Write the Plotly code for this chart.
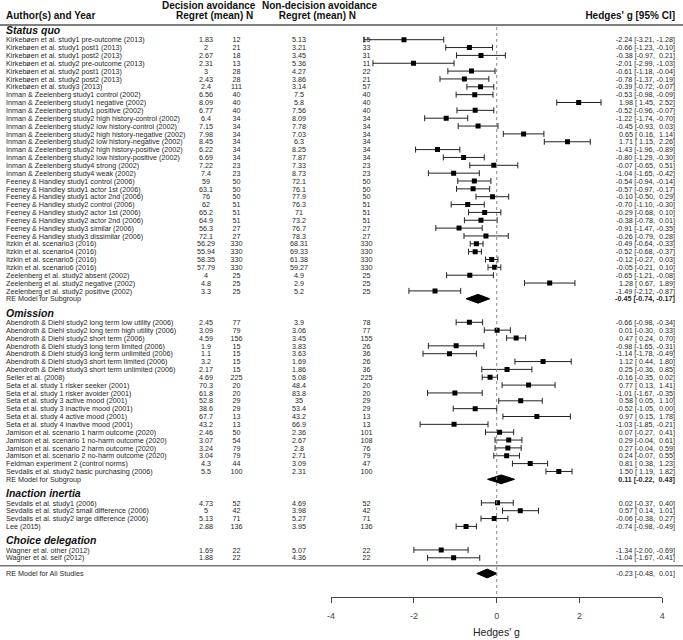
import plotly.graph_objects as go

# ---------------- DATA ----------------
# Status quo
sq_labels = [
    "Kirkebøen et al. study1 pre-outcome (2013)", "Kirkebøen et al. study1 post1 (2013)",
    "Kirkebøen et al. study1 post2 (2013)", "Kirkebøen et al. study2 pre-outcome (2013)",
    "Kirkebøen et al. study2 post1 (2013)", "Kirkebøen et al. study2 post2 (2013)",
    "Kirkebøen et al. study3 (2013)", "Inman & Zeelenberg study1 control (2002)",
    "Inman & Zeelenberg study1 negative (2002)", "Inman & Zeelenberg study1 positive (2002)",
    "Inman & Zeelenberg study2 high history-control (2002)", "Inman & Zeelenberg study2 low history-control (2002)",
    "Inman & Zeelenberg study2 high history-negative (2002)", "Inman & Zeelenberg study2 low history-negative (2002)",
    "Inman & Zeelenberg study2 high history-positive (2002)", "Inman & Zeelenberg study2 low history-positive (2002)",
    "Inman & Zeelenberg study4 strong (2002)", "Inman & Zeelenberg study4 weak (2002)",
    "Feeney & Handley study1 control (2006)", "Feeney & Handley study1 actor 1st (2006)",
    "Feeney & Handley study1 actor 2nd (2006)", "Feeney & Handley study2 control (2006)",
    "Feeney & Handley study2 actor 1st (2006)", "Feeney & Handley study2 actor 2nd (2006)",
    "Feeney & Handley study3 similar (2006)", "Feeney & Handley study3 dissimilar (2006)",
    "Itzkin et al. scenario3 (2016)", "Itzkin et al. scenario4 (2016)",
    "Itzkin et al. scenario5 (2016)", "Itzkin et al. scenario6 (2016)",
    "Zeelenberg et al. study2 absent (2002)", "Zeelenberg et al. study2 negative (2002)",
    "Zeelenberg et al. study2 positive (2002)",
]
sq_dec_mean = [1.83, 2, 2.67, 2.31, 3, 2.43, 2.4, 6.56, 8.09, 6.77, 6.4, 7.15, 7.98, 8.45, 6.22, 6.69,
               7.22, 7.4, 59, 63.1, 76, 62, 65.2, 64.9, 56.3, 72.1, 56.29, 55.94, 58.35, 57.79, 4, 4.8, 3.3]
sq_dec_n = [12, 21, 18, 13, 28, 28, 111, 40, 40, 40, 34, 34, 34, 34, 34, 34, 23, 23, 50, 50, 50, 51, 51,
            51, 27, 27, 330, 330, 330, 330, 25, 25, 25]
sq_non_mean = [5.13, 3.21, 3.45, 5.36, 4.27, 3.86, 3.14, 7.5, 5.8, 7.56, 8.09, 7.78, 7.03, 6.3, 8.25, 7.87,
               7.33, 8.73, 72.1, 76.1, 77.9, 76.3, 71, 73.2, 76.7, 78.3, 68.31, 69.33, 61.38, 59.27, 4.9, 2.9, 5.2]
sq_non_n = [15, 33, 31, 11, 22, 21, 57, 40, 40, 40, 34, 34, 34, 34, 34, 34, 23, 23, 50, 50, 50, 51, 51,
            51, 27, 27, 330, 330, 330, 330, 25, 25, 25]
sq_g = [-2.24, -0.66, -0.38, -2.01, -0.61, -0.78, -0.39, -0.53, 1.98, -0.52, -1.22, -0.45, 0.65, 1.71, -1.43,
        -0.80, -0.07, -1.04, -0.54, -0.57, -0.10, -0.70, -0.29, -0.38, -0.91, -0.26, -0.49, -0.52, -0.12,
        -0.05, -0.65, 1.28, -1.49]
sq_lo = [-3.21, -1.23, -0.97, -2.99, -1.18, -1.37, -0.72, -0.98, 1.45, -0.96, -1.74, -0.93, 0.16, 1.15, -1.96,
         -1.29, -0.65, -1.65, -0.94, -0.97, -0.50, -1.10, -0.68, -0.78, -1.47, -0.79, -0.64, -0.68, -0.27,
         -0.21, -1.21, 0.67, -2.12]
sq_hi = [-1.28, -0.10, 0.21, -1.03, -0.04, -0.19, -0.07, -0.09, 2.52, -0.07, -0.70, 0.03, 1.14, 2.26, -0.89,
         -0.30, 0.51, -0.42, -0.14, -0.17, 0.29, -0.30, 0.10, 0.01, -0.35, 0.28, -0.33, -0.37, 0.03, 0.10,
         -0.08, 1.89, -0.87]
sq_re = [-0.45, -0.74, -0.17]

# Omission
om_labels = [
    "Abendroth & Diehl study2 long term low utility (2006)", "Abendroth & Diehl study2 long term high utility (2006)",
    "Abendroth & Diehl study2 short term (2006)", "Abendroth & Diehl study3 long term limited (2006)",
    "Abendroth & Diehl study3 long term unlimited (2006)", "Abendroth & Diehl study3 short term limited (2006)",
    "Abendroth & Diehl study3 short term unlimited (2006)", "Seiler et al. (2008)",
    "Seta et al. study 1 risker seeker (2001)", "Seta et al. study 1 risker avoider (2001)",
    "Seta et al. study 3 active mood (2001)", "Seta et al. study 3 inactive mood (2001)",
    "Seta et al. study 4 active mood (2001)", "Seta et al. study 4 inavtive mood (2001)",
    "Jamison et al. scenario 1 harm outcome (2020)", "Jamison et al. scenario 1 no-harm outcome (2020)",
    "Jamison et al. scenario 2 harm outcome (2020)", "Jamison et al. scenario 2 no-harm outcome (2020)",
    "Feldman experiment 2 (control norms)", "Sevdalis et al. study2 basic purchasing (2006)",
]
om_dec_mean = [2.45, 3.09, 4.59, 1.9, 1.1, 3.2, 2.17, 4.69, 70.3, 61.8, 52.8, 38.6, 67.7, 43.2, 2.46, 3.07,
               3.24, 3.04, 4.3, 5.5]
om_dec_n = [77, 79, 156, 15, 15, 15, 15, 225, 20, 20, 29, 29, 13, 13, 50, 54, 79, 79, 44, 100]
om_non_mean = [3.9, 3.06, 3.45, 3.83, 3.63, 1.69, 1.86, 5.08, 48.4, 83.8, 35, 53.4, 43.2, 66.9, 2.36, 2.67,
               2.8, 2.71, 3.09, 2.31]
om_non_n = [78, 77, 155, 26, 36, 26, 36, 225, 20, 20, 29, 29, 13, 13, 101, 108, 76, 79, 47, 100]
om_g = [-0.66, 0.01, 0.47, -0.98, -1.14, 1.12, 0.25, -0.16, 0.77, -1.01, 0.58, -0.52, 0.97, -1.03, 0.07, 0.29,
        0.27, 0.24, 0.81, 1.50]
om_lo = [-0.98, -0.30, 0.24, -1.65, -1.78, 0.44, -0.36, -0.35, 0.13, -1.67, 0.05, -1.05, 0.15, -1.85, -0.27,
         -0.04, -0.04, -0.07, 0.38, 1.19]
om_hi = [-0.34, 0.33, 0.70, -0.31, -0.49, 1.80, 0.85, 0.02, 1.41, -0.35, 1.10, 0.00, 1.78, -0.21, 0.41, 0.61,
         0.59, 0.55, 1.23, 1.82]
om_re = [0.11, -0.22, 0.43]

# Inaction inertia
ii_labels = ["Sevdalis et al. study1 (2006)", "Sevdalis et al. study2 small difference (2006)",
             "Sevdalis et al. study2 large difference (2006)", "Lee (2015)"]
ii_dec_mean = [4.73, 5, 5.13, 2.88]
ii_dec_n = [52, 42, 71, 136]
ii_non_mean = [4.69, 3.98, 5.27, 3.95]
ii_non_n = [52, 42, 71, 136]
ii_g = [0.02, 0.57, -0.06, -0.74]
ii_lo = [-0.37, 0.14, -0.38, -0.98]
ii_hi = [0.40, 1.01, 0.27, -0.49]

# Choice delegation
cd_labels = ["Wagner et al. other (2012)", "Wagner et al. self (2012)"]
cd_dec_mean = [1.69, 1.88]
cd_dec_n = [22, 22]
cd_non_mean = [5.07, 4.36]
cd_non_n = [22, 22]
cd_g = [-1.34, -1.04]
cd_lo = [-2.00, -1.67]
cd_hi = [-0.69, -0.41]

all_re = [-0.23, -0.48, 0.01]

axis_ticks = [-4, -2, 0, 2, 4]
axis_title = "Hedges' g"

groups = [
    ("Status quo", sq_labels, sq_dec_mean, sq_dec_n, sq_non_mean, sq_non_n, sq_g, sq_lo, sq_hi, sq_re),
    ("Omission", om_labels, om_dec_mean, om_dec_n, om_non_mean, om_non_n, om_g, om_lo, om_hi, om_re),
    ("Inaction inertia", ii_labels, ii_dec_mean, ii_dec_n, ii_non_mean, ii_non_n, ii_g, ii_lo, ii_hi, None),
    ("Choice delegation", cd_labels, cd_dec_mean, cd_dec_n, cd_non_mean, cd_non_n, cd_g, cd_lo, cd_hi, None),
]

# ---------------- LAYOUT HELPERS ----------------
W, H = 683, 640
ROW0_PX, ROW_PX = 39.7, 7.85           # pixel y of row 1 and row spacing
def px2row(py):
    return 1 + (py - ROW0_PX) / ROW_PX

TDY = 0.9 / ROW_PX                      # small downward nudge for text baselines

FONT = "Liberation Sans, Arial, sans-serif"
TXT = "#262626"
HDR = "#111111"
NB = "\u00a0"

def fmt_ci(e, l, h):
    return (f"{e:5.2f} [{l:5.2f}, {h:5.2f}]").replace(" ", NB)

def fmt_num(v):
    return f"{v:g}"

X_LABEL, X_DM, X_DN, X_NM, X_NN, X_CI = 6, 206, 236.5, 299, 366.5, 675

hdr_y, hdr_t = [], []
row_y, lab_t, dm_t, dn_t, nm_t, nn_t, ci_t = [], [], [], [], [], [], []
pt_y, pt_g, pt_lo, pt_hi = [], [], [], []
dia = []
re_lab_y, re_lab_t = [], []

k = 0
for name, labs, dm, dn, nm, nn, g, lo, hi, re in groups:
    hdr_y.append(k); hdr_t.append(f"<b><i>{name}</i></b>")
    for i in range(len(labs)):
        y = k + 1 + i
        row_y.append(y); lab_t.append(labs[i])
        dm_t.append(fmt_num(dm[i])); dn_t.append(fmt_num(dn[i]))
        nm_t.append(fmt_num(nm[i])); nn_t.append(fmt_num(nn[i]))
        ci_t.append(fmt_ci(g[i], lo[i], hi[i]))
        pt_y.append(y); pt_g.append(g[i]); pt_lo.append(lo[i]); pt_hi.append(hi[i])
    last = k + len(labs)
    if re is not None:
        last += 1
        re_lab_y.append(last); re_lab_t.append("RE Model for Subgroup")
        dia.append((last, re[0], re[1], re[2], True))
    k = last + 2

rule_row = k - 1
all_row = rule_row + 1
re_lab_y.append(all_row); re_lab_t.append("RE Model for All Studies")
dia.append((all_row, all_re[0], all_re[1], all_re[2], False))

fig = go.Figure()

fig.add_trace(go.Scatter(
    x=pt_g, y=pt_y, mode="markers",
    marker=dict(symbol="square", size=5, color="black"),
    error_x=dict(type="data", symmetric=False,
                 array=[h - e for h, e in zip(pt_hi, pt_g)],
                 arrayminus=[e - l for e, l in zip(pt_g, pt_lo)],
                 color="#222222", thickness=1, width=3),
    hoverinfo="skip", showlegend=False, xaxis="x", yaxis="y"))

DH = 0.56
for (y, e, l, h, bold) in dia:
    fig.add_trace(go.Scatter(
        x=[l, e, h, e, l], y=[y, y - DH, y, y + DH, y],
        mode="lines", fill="toself", fillcolor="black",
        line=dict(color="black", width=1),
        hoverinfo="skip", showlegend=False, xaxis="x", yaxis="y"))

def text_trace(xs, ys, texts, pos, size=7.2, color=TXT, dy=TDY):
    fig.add_trace(go.Scatter(
        x=xs, y=[v + dy for v in ys], text=texts, mode="text", textposition=pos,
        textfont=dict(family=FONT, size=size, color=color),
        hoverinfo="skip", showlegend=False, cliponaxis=False,
        xaxis="x2", yaxis="y"))

n = len(row_y)
text_trace([X_LABEL] * n, row_y, lab_t, "middle right")
text_trace([X_DM] * n, row_y, dm_t, "middle center")
text_trace([X_DN] * n, row_y, dn_t, "middle center")
text_trace([X_NM] * n, row_y, nm_t, "middle center")
text_trace([X_NN] * n, row_y, nn_t, "middle center")
text_trace([X_CI] * n, row_y, ci_t, "middle left")

# section headers (nudged slightly up, away from the first study row)
text_trace([X_LABEL] * len(hdr_y), hdr_y, hdr_t, "middle right", size=10.5, color=HDR, dy=-0.05)
text_trace([X_LABEL] * len(re_lab_y), re_lab_y, re_lab_t, "middle right")
re_ci = [(f"<b>{fmt_ci(e, l, h)}</b>" if b else fmt_ci(e, l, h)) for (y, e, l, h, b) in dia]
text_trace([X_CI] * len(dia), [d[0] for d in dia], re_ci, "middle left")

# column headers
hy1, hy2 = px2row(5.5), px2row(15.5)
text_trace([162], [hy1], ["<b>Decision avoidance</b>"], "middle right", size=10, color=HDR)
text_trace([377], [hy1], ["<b>Non-decision avoidance</b>"], "middle left", size=10, color=HDR)
text_trace([X_LABEL], [hy2], ["<b>Author(s) and Year</b>"], "middle right", size=10, color=HDR)
text_trace([176], [hy2], ["<b>Regret (mean)" + NB + "N</b>"], "middle right", size=10, color=HDR)
text_trace([356], [hy2], ["<b>Regret (mean)" + NB + "N</b>"], "middle left", size=10, color=HDR)
text_trace([X_CI], [hy2], ["<b>Hedges' g [95% CI]</b>"], "middle left", size=10, color=HDR)

XMIN, XMAX = -4, 4
X0_PX, UNIT_PX = 496.7, 41.4
AXIS_PX = 596.7

shapes = [
    dict(type="line", xref="paper", yref="y", x0=0, x1=1, y0=px2row(25), y1=px2row(25),
         line=dict(color="#555555", width=1.5)),
    dict(type="line", xref="paper", yref="y", x0=0, x1=1, y0=rule_row, y1=rule_row,
         line=dict(color="#777777", width=1.5)),
    dict(type="line", xref="x", yref="y", x0=0, x1=0, y0=px2row(27), y1=px2row(AXIS_PX),
         line=dict(color="#888888", width=1, dash="dot")),
]

fig.update_layout(
    width=W, height=H,
    margin=dict(l=0, r=0, t=0, b=0),
    paper_bgcolor="white", plot_bgcolor="rgba(0,0,0,0)",
    showlegend=False,
    shapes=shapes,
    xaxis=dict(domain=[(X0_PX + XMIN * UNIT_PX) / W, (X0_PX + XMAX * UNIT_PX) / W],
               range=[XMIN, XMAX], anchor="free", position=1 - AXIS_PX / H,
               showline=True, linecolor="#444444", linewidth=1,
               ticks="outside", ticklen=5, tickcolor="#444444", tickwidth=1,
               tickvals=axis_ticks, ticktext=[str(t) for t in axis_ticks],
               tickfont=dict(family=FONT, size=9, color="#444444"),
               ticklabelstandoff=5, automargin=False,
               showgrid=False, zeroline=False, fixedrange=True),
    xaxis2=dict(domain=[0, 1], range=[0, W], anchor="y",
                visible=False, fixedrange=True),
    yaxis=dict(domain=[0, 1], range=[px2row(H), px2row(0)], visible=False, fixedrange=True),
    annotations=[dict(text=axis_title, xref="x", yref="paper", x=0, y=1 - 632 / H,
                      showarrow=False, font=dict(family=FONT, size=10.5, color="#222222"),
                      xanchor="center", yanchor="middle")],
)

fig.write_html("out.html", config={"displayModeBar": False, "staticPlot": True},
               post_script="document.body.style.margin='0px';")
